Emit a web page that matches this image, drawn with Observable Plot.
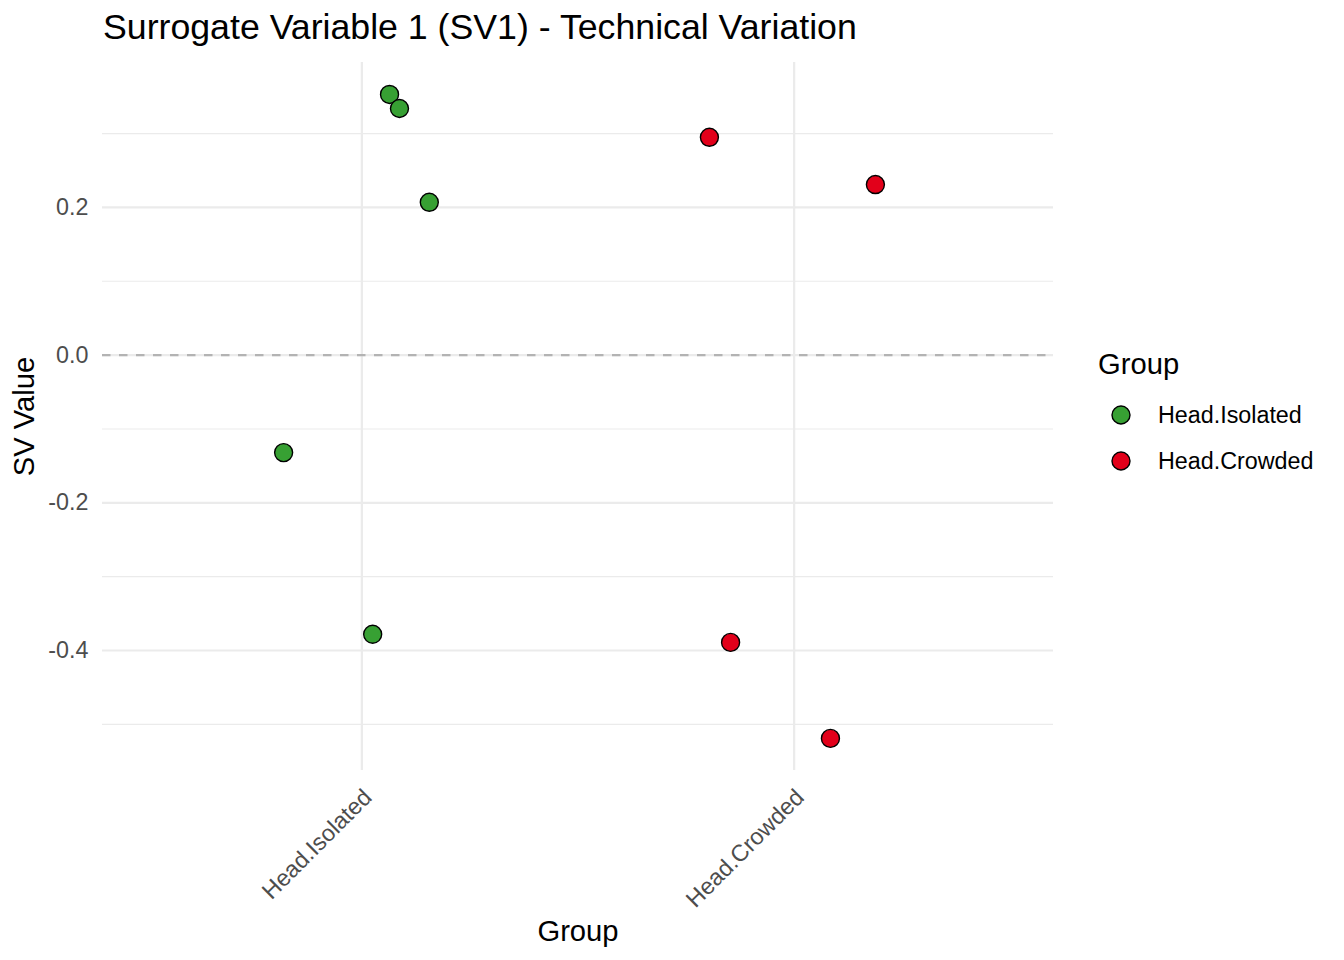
<!DOCTYPE html>
<html>
<head>
<meta charset="utf-8">
<script src="https://cdn.jsdelivr.net/npm/d3@7"></script>
<script src="https://cdn.jsdelivr.net/npm/@observablehq/plot@0.6"></script>
<style>
  body { margin: 0; background: #fff; font-family: "Liberation Sans", Arial, Helvetica, sans-serif; }
  #wrap { position: relative; width: 1344px; height: 960px; overflow: hidden; }
  #title { position: absolute; left: 103px; top: 10px; font-size: 35.7px; line-height: 1; color: #000; white-space: nowrap; }
  #legend-title { position: absolute; left: 1098px; top: 350px; font-size: 29.2px; line-height: 1; color: #000; }
  .leg-item { position: absolute; left: 1111px; height: 24px; display: flex; align-items: center; font-size: 23.3px; color: #000; white-space: nowrap; }
  .leg-item svg { margin-right: 27px; }
  #chart { position: absolute; left: 0; top: 0; }
  g[aria-label="y-axis label"], g[aria-label="x-axis label"] { fill: #000; font-size: 29.2px; }
</style>
</head>
<body>
<div id="wrap">
  <div id="chart"></div>
  <div id="title"></div>
  <div id="legend-title"></div>
  <div id="legend"></div>
</div>
<script>
// ---- data ----
const categories = ["Head.Isolated", "Head.Crowded"];
const colors = ["#37A033", "#E2001A"];
const groups = ["Head.Isolated", "Head.Isolated", "Head.Isolated", "Head.Isolated", "Head.Isolated",
                "Head.Crowded", "Head.Crowded", "Head.Crowded", "Head.Crowded"];
const values = [0.353, 0.334, 0.207, -0.132, -0.378, 0.295, 0.231, -0.389, -0.519];
const jitter = [0.064, 0.087, 0.156, -0.181, 0.025, -0.196, 0.188, -0.147, 0.084];
const majorBreaks = [-0.4, -0.2, 0.0, 0.2];
const minorBreaks = [-0.5, -0.3, -0.1, 0.1, 0.3];
const titleText = "Surrogate Variable 1 (SV1) - Technical Variation";
const xLabel = "Group";
const yLabel = "SV Value";
const legendTitle = "Group";

const data = values.map((v, i) => ({group: groups[i], value: v, jitter: jitter[i]}));

const font = '"Liberation Sans", Arial, Helvetica, sans-serif';

const chart = Plot.plot({
  width: 1344,
  height: 960,
  marginTop: 62,
  marginBottom: 190,
  marginLeft: 102,
  marginRight: 291,
  style: {fontFamily: font, fontSize: "23.3px", background: "transparent", color: "#000"},
  x: {type: "linear", domain: [0.4, 2.6]},
  y: {domain: [-0.5625, 0.3963]},
  color: {domain: categories, range: colors},
  marks: [
    Plot.ruleY(minorBreaks, {stroke: "#EBEBEB", strokeWidth: 1.1}),
    Plot.ruleY(majorBreaks, {stroke: "#EBEBEB", strokeWidth: 2.2}),
    Plot.ruleX([1, 2], {stroke: "#EBEBEB", strokeWidth: 2.2}),
    Plot.ruleY([0], {stroke: "#B3B3B3", strokeWidth: 2.1, strokeDasharray: "8.5,8.5"}),
    Plot.dot(data, {
      x: d => categories.indexOf(d.group) + 1 + d.jitter,
      y: "value",
      fill: "group",
      stroke: "#000",
      strokeWidth: 1.4,
      r: 9
    }),
    Plot.axisY({
      ticks: majorBreaks,
      tickSize: 0,
      tickPadding: 14,
      tickFormat: d => d.toFixed(1),
      fill: "#4D4D4D",
      fontSize: 23.3,
      label: yLabel,
      labelAnchor: "center",
      labelArrow: "none",
      labelOffset: 89
    }),
    Plot.axisX({
      ticks: [1, 2],
      tickSize: 0,
      tickPadding: 23,
      tickRotate: -45,
      dx: 6,
      tickFormat: d => categories[Math.round(d) - 1],
      fill: "#4D4D4D",
      fontSize: 23.3,
      label: null
    }),
    Plot.axisX({
      ticks: [],
      tickSize: 0,
      label: xLabel,
      labelAnchor: "center",
      labelArrow: "none",
      labelOffset: 170
    })
  ]
});
document.getElementById("chart").appendChild(chart);

document.getElementById("title").textContent = titleText;
document.getElementById("legend-title").textContent = legendTitle;
const legend = document.getElementById("legend");
const legendCenters = [415, 461];
categories.forEach((c, i) => {
  const item = document.createElement("div");
  item.className = "leg-item";
  item.style.top = (legendCenters[i] - 12) + "px";
  item.innerHTML = `<svg width="20" height="20"><circle cx="10" cy="10" r="9" fill="${colors[i]}" stroke="#000" stroke-width="1.4"></circle></svg><span></span>`;
  item.querySelector("span").textContent = c;
  legend.appendChild(item);
});
</script>
</body>
</html>
